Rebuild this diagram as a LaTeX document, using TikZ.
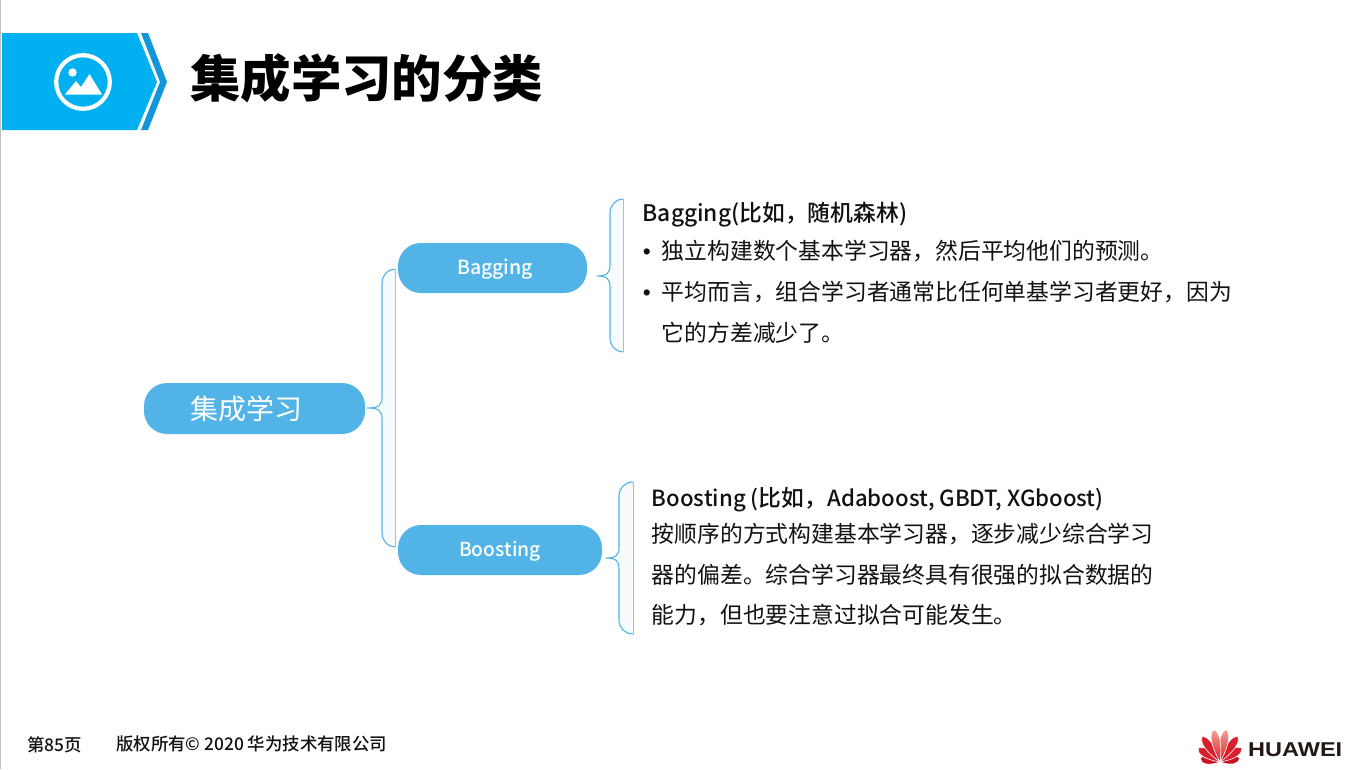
\documentclass[tikz,border=0pt]{standalone}
\usepackage{fontspec}
\setmainfont{Noto Sans CJK SC}
\newfontfamily\medfont{Noto Sans CJK SC Medium}
\newfontfamily\logofont{Liberation Sans}
\definecolor{headblue}{HTML}{00B0F0}
\definecolor{chevblue}{HTML}{1296DB}
\definecolor{pillblue}{HTML}{52B4E6}
\definecolor{bracefill}{HTML}{F7FBFE}
\definecolor{braceside}{HTML}{B4BAC0}
\definecolor{txt}{HTML}{111111}
\definecolor{logored}{HTML}{D8202C}
\definecolor{logodark}{HTML}{C8141E}
\definecolor{logopink}{HTML}{F4A090}
\definecolor{logotext}{HTML}{231815}
\newcommand{\fs}[1]{\fontsize{#1}{#1}\selectfont}
% tip x, tip y, spine x, right x, top y, bottom y, tip radius
\newcommand{\mybrace}[7]{%
  \coordinate (bt) at (#4,#5);
  \coordinate (bb) at (#4,#6);
  \coordinate (btip) at (#1,#2);
  \path[fill=bracefill] (bt)
    .. controls ({#3+6},#5) and (#3,{#5+6}) .. (#3,{#5+14})
    -- (#3,{#2-#7})
    .. controls (#3,{#2-3}) and ({#3-3},#2) .. (btip)
    .. controls ({#3-3},#2) and (#3,{#2+3}) .. (#3,{#2+#7})
    -- (#3,{#6-14})
    .. controls (#3,{#6-6}) and ({#3+6},#6) .. (bb) -- cycle;
  \draw[braceside,line width=0.9pt] (bt) -- (bb);
  \draw[pillblue,line width=1.1pt] (bt)
    .. controls ({#3+6},#5) and (#3,{#5+6}) .. (#3,{#5+14})
    -- (#3,{#2-#7})
    .. controls (#3,{#2-3}) and ({#3-3},#2) .. (btip)
    .. controls ({#3-3},#2) and (#3,{#2+3}) .. (#3,{#2+#7})
    -- (#3,{#6-14})
    .. controls (#3,{#6-6}) and ({#3+6},#6) .. (bb);
}
\newcommand{\petal}[3]{% angle, length, fill options
  \path[#3,draw=white,line width=0.6pt,rotate around={#1:(1220,762)}]
    (1220,762) .. controls (1214,{762-0.55*#2}) and (1214.5,{762-0.9*#2}) .. (1220,{762-#2})
    .. controls (1225,{762-0.9*#2}) and (1226,{762-0.55*#2}) .. (1220,762) -- cycle;
}
\tikzset{
  pill/.style={rectangle,fill=pillblue,rounded corners=23pt,inner sep=0pt,text=white},
  body/.style={anchor=base west,inner sep=0pt,text=txt,font=\fs{22.8}},
  head/.style={anchor=base west,inner sep=0pt,text=txt,font=\medfont\fs{22.8}},
  foot/.style={anchor=base west,inner sep=0pt,text=txt,font=\medfont\fs{17.4}},
  bul/.style={anchor=base west,inner sep=0pt,text=txt,font=\logofont\fs{22.8}},
}
\begin{document}
\begin{tikzpicture}[x=1pt,y=-1pt]
\useasboundingbox (0,0) rectangle (1370,769);
\fill[white] (0,0) rectangle (1370,769);
\draw[gray!50,line width=1pt] (0.5,0) -- (0.5,769);
% header
\fill[headblue] (2,33) -- (137,33) -- (157,82) -- (137,130) -- (2,130) -- cycle;
\fill[chevblue] (141,33) -- (148,33) -- (167,82) -- (148,130) -- (141,130) -- (160,82) -- cycle;
\draw[white,line width=4.2pt] (83,82) circle (26.8);
\fill[white] (72.5,72.5) circle (4.2);
\fill[white] (65,94.5) -- (76,81) -- (81,87) -- (89.5,74) -- (102,94.5) -- cycle;
\node[anchor=base west,inner sep=0pt,text=black,font=\bfseries\fs{50.4}] (title) at (190,97) {集成学习的分类};
% pills
\node[pill,minimum width=221pt,minimum height=51pt,font=\fs{28}] (main) at (254.5,408.5) {\hspace*{-16pt}集成学习};
\node[pill,minimum width=189pt,minimum height=50pt,text height=16pt,text depth=4pt,font=\medfont\fs{19.5}] (bag) at (492.5,268) {\hspace*{5pt}Bagging};
\node[pill,minimum width=204pt,minimum height=50pt,text height=16pt,text depth=4pt,font=\medfont\fs{19.3}] (boost) at (500,550) {Boosting};
% braces
\mybrace{367}{408}{382}{395}{269}{547}{11}
\mybrace{597}{276}{610}{623}{199}{352}{11}
\mybrace{606}{558}{619}{633}{482}{634}{11}
% Bagging text
\node[head] (t1) at (642.5,221.5) {Bagging(比如，随机森林)};
\node[bul] (b1) at (642.7,259.5) {•};
\node[body] (t2) at (661.7,259.5) {独立构建数个基本学习器，然后平均他们的预测。};
\node[bul] (b2) at (642.7,300.5) {•};
\node[body] (t3) at (661.7,300.5) {平均而言，组合学习者通常比任何单基学习者更好，因为};
\node[body] (t4) at (661.7,341.5) {它的方差减少了。};
% Boosting text
\node[head] (s1) at (651.7,506.5) {\fs{22.2}Boosting (\fs{22.8}比如，\fs{22.2}Adaboost, GBDT, XGboost)};
\node[body] (s2) at (651.7,542.5) {按顺序的方式构建基本学习器，逐步减少综合学习};
\node[body] (s3) at (651.7,583.5) {器的偏差。综合学习器最终具有很强的拟合数据的};
\node[body] (s4) at (651.7,623.5) {能力，但也要注意过拟合可能发生。};
% footer
\node[foot] (f1) at (27,751) {第85页};
\node[foot] (f2) at (116,750) {版权所有© 2020 华为技术有限公司};
% logo
\petal{-80}{20}{fill=logodark}
\petal{-58}{26}{fill=logored}
\petal{-35}{31}{fill=logored}
\petal{-11}{33}{top color=logopink,bottom color=logored}
\petal{80}{20}{fill=logodark}
\petal{58}{26}{fill=logored}
\petal{35}{31}{fill=logored}
\petal{11}{33}{top color=logopink,bottom color=logored}
\node[anchor=base west,inner sep=0pt,text=logotext,font=\logofont\bfseries\fs{20}] (logo) at (1248,756.5) {\scalebox{1.175}[1]{HUAWEI}};
\end{tikzpicture}
\end{document}
